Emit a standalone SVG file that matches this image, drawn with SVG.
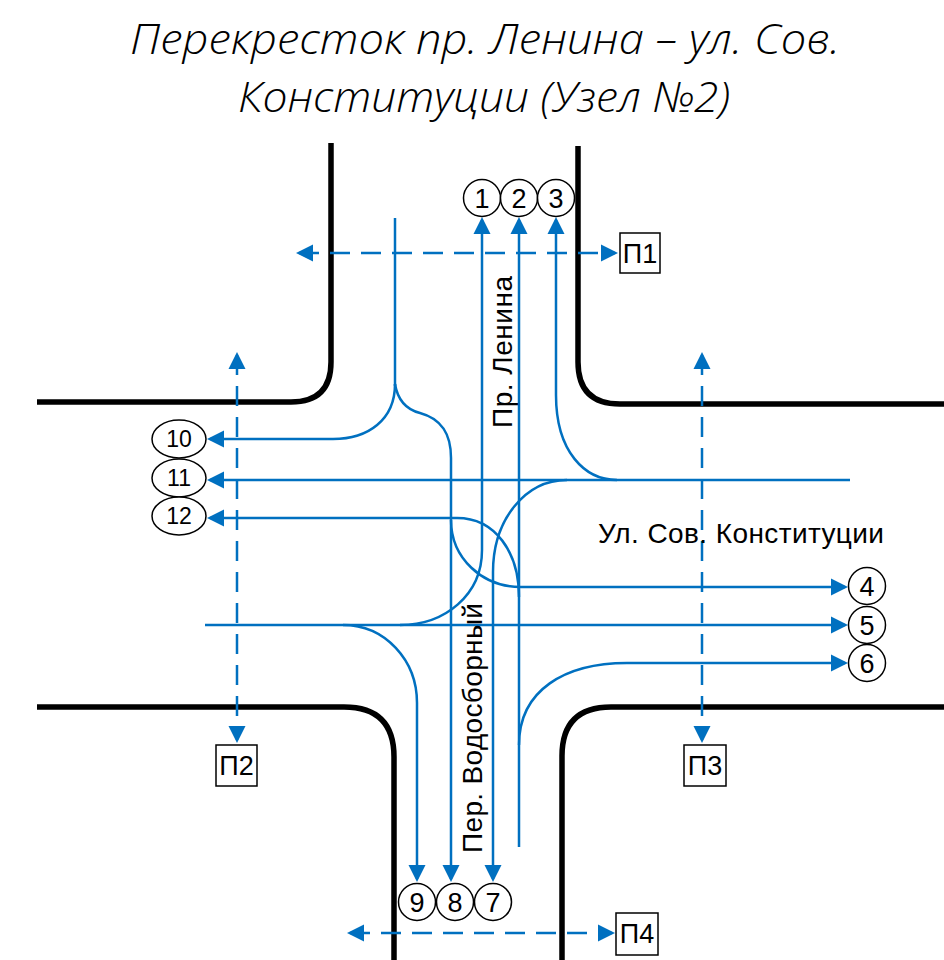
<svg xmlns="http://www.w3.org/2000/svg" width="944" height="960" viewBox="0 0 944 960">
<style>
.road{fill:none;stroke:#000;stroke-width:5.5;stroke-linejoin:round}
.flow{fill:none;stroke:#0070C0;stroke-width:2.5}
.ped{fill:none;stroke:#0070C0;stroke-width:2.5;stroke-dasharray:20 11}
.node{fill:#fff;stroke:#000;stroke-width:1.5}
.num{font-family:"Liberation Sans",Arial,sans-serif;font-size:27px;fill:#000;text-anchor:middle}
.enum{font-family:"Liberation Sans",Arial,sans-serif;font-size:23px;fill:#000;text-anchor:middle}
.lbl{font-family:"Liberation Sans",Arial,sans-serif;font-size:28px;fill:#000}
.title{font-family:"Open Sans","DejaVu Sans",sans-serif;font-style:italic;font-weight:300;font-size:42px;fill:#000}
</style>
<defs>
<marker id="ah" viewBox="0 0 17 18" refX="14" refY="9" markerWidth="17" markerHeight="18" markerUnits="userSpaceOnUse" orient="auto-start-reverse">
<path d="M0,0.5 L17,9 L0,17.5 z" fill="#0070C0"/>
</marker>
</defs>
<rect width="944" height="960" fill="#fff"/>
<g id="title">
<text class="title" x="130" y="54" textLength="710" lengthAdjust="spacingAndGlyphs">Перекресток пр. Ленина – ул. Сов.</text>
<text class="title" x="238" y="112" textLength="492" lengthAdjust="spacingAndGlyphs">Конституции (Узел №2)</text>
</g>
<g id="roads">
<path class="road" d="M331,143 V362 Q331,402 291,402 H37"/>
<path class="road" d="M578,146 V362 Q578,404 620,404 H944"/>
<path class="road" d="M37,707 H344 Q394,707 394,757 V960"/>
<path class="road" d="M944,707 H611 Q562,707 562,756 V960"/>
</g>
<g id="connectors">
<path class="flow" d="M395,218 V386"/>
<path class="flow" marker-end="url(#ah)" d="M395,384 C395,420 368,439 333,439 H210"/>
<path class="flow" marker-end="url(#ah)" d="M395,384 C398,402 408,410 420,413 C442,419 451,434 451,458 V879"/>
<path class="flow" marker-end="url(#ah)" d="M451,520 C451,558 482,587 521,587 H845"/>
<path class="flow" marker-end="url(#ah)" d="M850,480 H210"/>
<path class="flow" marker-end="url(#ah)" d="M617,480 C585,480 556,452 556,395 V220"/>
<path class="flow" marker-end="url(#ah)" d="M567,480 C525,480 493,520 493,572 V879"/>
<path class="flow" marker-end="url(#ah)" d="M519,847 V220"/>
<path class="flow" marker-end="url(#ah)" d="M519,745 C519,690 565,663 627,663 H845"/>
<path class="flow" marker-end="url(#ah)" d="M519,597 C519,552 495,518 457,518 H210"/>
<path class="flow" marker-end="url(#ah)" d="M205,625 H845"/>
<path class="flow" marker-end="url(#ah)" d="M343,625 C385,625 417,660 417,703 V879"/>
<path class="flow" marker-end="url(#ah)" d="M400,625 C445,625 482,595 482,550 V220"/>
</g>
<g id="crossings">
<path class="ped" marker-start="url(#ah)" marker-end="url(#ah)" d="M299,253 H615"/>
<path class="ped" marker-start="url(#ah)" marker-end="url(#ah)" d="M237,355 V740"/>
<path class="ped" marker-start="url(#ah)" marker-end="url(#ah)" d="M702,355 V740"/>
<path class="ped" marker-start="url(#ah)" marker-end="url(#ah)" d="M350,933 H612"/>
</g>
<g id="P1"><rect class="node" x="620" y="233" width="40" height="40"/><text class="num" x="640" y="263">П1</text></g>
<g id="P2"><rect class="node" x="216" y="745" width="41" height="41"/><text class="num" x="236.5" y="775">П2</text></g>
<g id="P3"><rect class="node" x="684" y="745" width="42" height="41"/><text class="num" x="705" y="775">П3</text></g>
<g id="P4"><rect class="node" x="616" y="913" width="42" height="42"/><text class="num" x="637" y="943">П4</text></g>
<g id="n1"><circle class="node" cx="482" cy="198" r="18.5"/><text class="num" x="482" y="208">1</text></g>
<g id="n2"><circle class="node" cx="519" cy="198" r="18.5"/><text class="num" x="519" y="208">2</text></g>
<g id="n3"><circle class="node" cx="556" cy="198" r="18.5"/><text class="num" x="556" y="208">3</text></g>
<g id="n4"><circle class="node" cx="867" cy="586" r="18.5"/><text class="num" x="867" y="596">4</text></g>
<g id="n5"><circle class="node" cx="867" cy="625" r="18.5"/><text class="num" x="867" y="635">5</text></g>
<g id="n6"><circle class="node" cx="867" cy="663" r="18.5"/><text class="num" x="867" y="673">6</text></g>
<g id="n7"><circle class="node" cx="493" cy="902" r="18.5"/><text class="num" x="493" y="912">7</text></g>
<g id="n8"><circle class="node" cx="455" cy="902" r="18.5"/><text class="num" x="455" y="912">8</text></g>
<g id="n9"><circle class="node" cx="417" cy="902" r="18.5"/><text class="num" x="417" y="912">9</text></g>
<g id="n10"><ellipse class="node" cx="179" cy="439" rx="27" ry="19"/><text class="enum" x="179" y="447">10</text></g>
<g id="n11"><ellipse class="node" cx="179" cy="478" rx="27" ry="19"/><text class="enum" x="179" y="486">11</text></g>
<g id="n12"><ellipse class="node" cx="179" cy="516" rx="27" ry="19"/><text class="enum" x="179" y="524">12</text></g>
<g id="labels">
<text class="lbl" transform="translate(512,352) rotate(-90)" text-anchor="middle" textLength="152">Пр. Ленина</text>
<text class="lbl" x="598" y="543" textLength="286">Ул. Сов. Конституции</text>
<text class="lbl" transform="translate(482,728) rotate(-90)" text-anchor="middle" font-size="27" textLength="250">Пер. Водосборный</text>
</g>
</svg>
